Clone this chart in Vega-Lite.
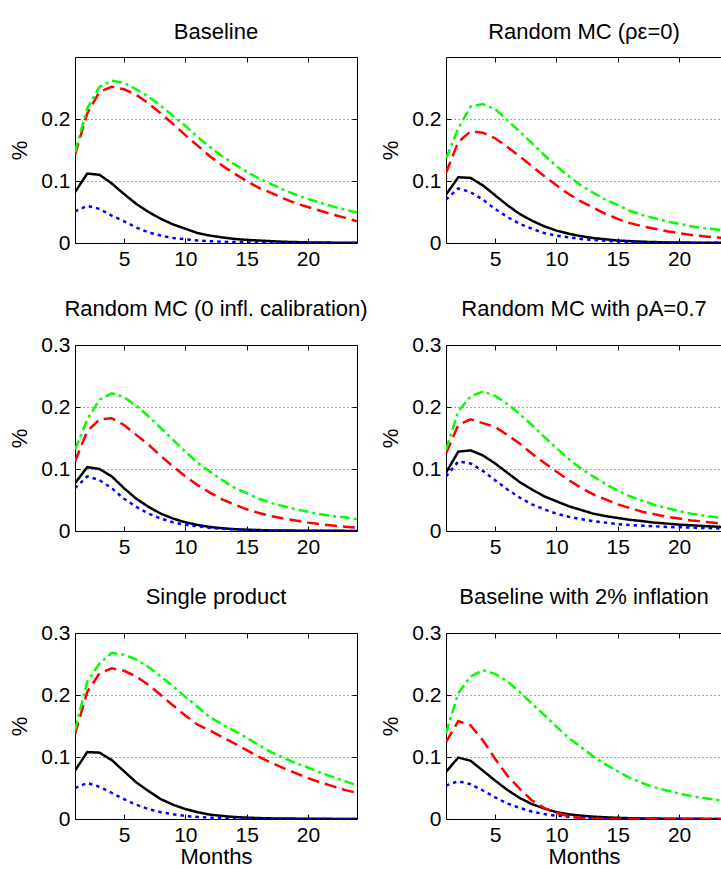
{
  "$schema": "https://vega.github.io/schema/vega-lite/v6.json",
  "padding": {"left": 8, "top": 20, "right": 0, "bottom": 0},
  "datasets": {
    "irf": [
      {"panel": "p1", "month": 1, "black": 0.082, "blue": 0.051, "red": 0.142, "green": 0.147},
      {"panel": "p1", "month": 2, "black": 0.112, "blue": 0.060, "red": 0.209, "green": 0.217},
      {"panel": "p1", "month": 3, "black": 0.110, "blue": 0.055, "red": 0.244, "green": 0.252},
      {"panel": "p1", "month": 4, "black": 0.096, "blue": 0.044, "red": 0.252, "green": 0.262},
      {"panel": "p1", "month": 5, "black": 0.079, "blue": 0.035, "red": 0.248, "green": 0.258},
      {"panel": "p1", "month": 6, "black": 0.063, "blue": 0.025, "red": 0.239, "green": 0.248},
      {"panel": "p1", "month": 7, "black": 0.050, "blue": 0.017, "red": 0.225, "green": 0.236},
      {"panel": "p1", "month": 8, "black": 0.039, "blue": 0.012, "red": 0.209, "green": 0.221},
      {"panel": "p1", "month": 9, "black": 0.030, "blue": 0.008, "red": 0.192, "green": 0.205},
      {"panel": "p1", "month": 10, "black": 0.023, "blue": 0.006, "red": 0.174, "green": 0.189},
      {"panel": "p1", "month": 11, "black": 0.016, "blue": 0.004, "red": 0.157, "green": 0.171},
      {"panel": "p1", "month": 12, "black": 0.012, "blue": 0.003, "red": 0.140, "green": 0.155},
      {"panel": "p1", "month": 13, "black": 0.009, "blue": 0.002, "red": 0.125, "green": 0.140},
      {"panel": "p1", "month": 14, "black": 0.0065, "blue": 0.0015, "red": 0.112, "green": 0.127},
      {"panel": "p1", "month": 15, "black": 0.005, "blue": 0.001, "red": 0.100, "green": 0.115},
      {"panel": "p1", "month": 16, "black": 0.004, "blue": 0.0008, "red": 0.089, "green": 0.104},
      {"panel": "p1", "month": 17, "black": 0.003, "blue": 0.0006, "red": 0.081, "green": 0.095},
      {"panel": "p1", "month": 18, "black": 0.002, "blue": 0.0005, "red": 0.072, "green": 0.086},
      {"panel": "p1", "month": 19, "black": 0.0015, "blue": 0.0004, "red": 0.064, "green": 0.078},
      {"panel": "p1", "month": 20, "black": 0.001, "blue": 0.0003, "red": 0.058, "green": 0.071},
      {"panel": "p1", "month": 21, "black": 0.0008, "blue": 0.0002, "red": 0.052, "green": 0.065},
      {"panel": "p1", "month": 22, "black": 0.0006, "blue": 0.0002, "red": 0.046, "green": 0.059},
      {"panel": "p1", "month": 23, "black": 0.0005, "blue": 0.0001, "red": 0.041, "green": 0.054},
      {"panel": "p1", "month": 24, "black": 0.0004, "blue": 0.0001, "red": 0.035, "green": 0.049},
      {"panel": "p2", "month": 1, "black": 0.078, "blue": 0.070, "red": 0.113, "green": 0.136},
      {"panel": "p2", "month": 2, "black": 0.106, "blue": 0.088, "red": 0.163, "green": 0.185},
      {"panel": "p2", "month": 3, "black": 0.105, "blue": 0.082, "red": 0.180, "green": 0.220},
      {"panel": "p2", "month": 4, "black": 0.093, "blue": 0.070, "red": 0.178, "green": 0.224},
      {"panel": "p2", "month": 5, "black": 0.077, "blue": 0.055, "red": 0.169, "green": 0.216},
      {"panel": "p2", "month": 6, "black": 0.061, "blue": 0.042, "red": 0.155, "green": 0.198},
      {"panel": "p2", "month": 7, "black": 0.047, "blue": 0.031, "red": 0.140, "green": 0.180},
      {"panel": "p2", "month": 8, "black": 0.036, "blue": 0.023, "red": 0.124, "green": 0.161},
      {"panel": "p2", "month": 9, "black": 0.027, "blue": 0.016, "red": 0.108, "green": 0.142},
      {"panel": "p2", "month": 10, "black": 0.020, "blue": 0.012, "red": 0.093, "green": 0.124},
      {"panel": "p2", "month": 11, "black": 0.015, "blue": 0.009, "red": 0.079, "green": 0.108},
      {"panel": "p2", "month": 12, "black": 0.011, "blue": 0.0065, "red": 0.067, "green": 0.093},
      {"panel": "p2", "month": 13, "black": 0.008, "blue": 0.005, "red": 0.057, "green": 0.081},
      {"panel": "p2", "month": 14, "black": 0.006, "blue": 0.0035, "red": 0.047, "green": 0.070},
      {"panel": "p2", "month": 15, "black": 0.004, "blue": 0.0025, "red": 0.039, "green": 0.061},
      {"panel": "p2", "month": 16, "black": 0.003, "blue": 0.002, "red": 0.032, "green": 0.052},
      {"panel": "p2", "month": 17, "black": 0.002, "blue": 0.0015, "red": 0.027, "green": 0.045},
      {"panel": "p2", "month": 18, "black": 0.0015, "blue": 0.001, "red": 0.023, "green": 0.040},
      {"panel": "p2", "month": 19, "black": 0.001, "blue": 0.0008, "red": 0.019, "green": 0.035},
      {"panel": "p2", "month": 20, "black": 0.0008, "blue": 0.0006, "red": 0.016, "green": 0.031},
      {"panel": "p2", "month": 21, "black": 0.0006, "blue": 0.0005, "red": 0.013, "green": 0.027},
      {"panel": "p2", "month": 22, "black": 0.0005, "blue": 0.0004, "red": 0.011, "green": 0.024},
      {"panel": "p2", "month": 23, "black": 0.0004, "blue": 0.0003, "red": 0.009, "green": 0.022},
      {"panel": "p2", "month": 24, "black": 0.0003, "blue": 0.0002, "red": 0.008, "green": 0.019},
      {"panel": "p3", "month": 1, "black": 0.077, "blue": 0.069, "red": 0.112, "green": 0.131},
      {"panel": "p3", "month": 2, "black": 0.103, "blue": 0.088, "red": 0.161, "green": 0.180},
      {"panel": "p3", "month": 3, "black": 0.100, "blue": 0.082, "red": 0.180, "green": 0.212},
      {"panel": "p3", "month": 4, "black": 0.088, "blue": 0.069, "red": 0.182, "green": 0.222},
      {"panel": "p3", "month": 5, "black": 0.069, "blue": 0.052, "red": 0.171, "green": 0.216},
      {"panel": "p3", "month": 6, "black": 0.052, "blue": 0.039, "red": 0.155, "green": 0.202},
      {"panel": "p3", "month": 7, "black": 0.039, "blue": 0.028, "red": 0.139, "green": 0.185},
      {"panel": "p3", "month": 8, "black": 0.028, "blue": 0.020, "red": 0.121, "green": 0.166},
      {"panel": "p3", "month": 9, "black": 0.020, "blue": 0.014, "red": 0.104, "green": 0.147},
      {"panel": "p3", "month": 10, "black": 0.014, "blue": 0.010, "red": 0.088, "green": 0.128},
      {"panel": "p3", "month": 11, "black": 0.0097, "blue": 0.0075, "red": 0.074, "green": 0.110},
      {"panel": "p3", "month": 12, "black": 0.0065, "blue": 0.005, "red": 0.062, "green": 0.096},
      {"panel": "p3", "month": 13, "black": 0.0045, "blue": 0.0035, "red": 0.051, "green": 0.082},
      {"panel": "p3", "month": 14, "black": 0.003, "blue": 0.0025, "red": 0.043, "green": 0.070},
      {"panel": "p3", "month": 15, "black": 0.002, "blue": 0.0018, "red": 0.035, "green": 0.061},
      {"panel": "p3", "month": 16, "black": 0.0015, "blue": 0.0013, "red": 0.029, "green": 0.052},
      {"panel": "p3", "month": 17, "black": 0.001, "blue": 0.001, "red": 0.024, "green": 0.045},
      {"panel": "p3", "month": 18, "black": 0.0008, "blue": 0.0008, "red": 0.020, "green": 0.040},
      {"panel": "p3", "month": 19, "black": 0.0006, "blue": 0.0006, "red": 0.017, "green": 0.035},
      {"panel": "p3", "month": 20, "black": 0.0005, "blue": 0.0005, "red": 0.0135, "green": 0.031},
      {"panel": "p3", "month": 21, "black": 0.0004, "blue": 0.0004, "red": 0.011, "green": 0.027},
      {"panel": "p3", "month": 22, "black": 0.0003, "blue": 0.0003, "red": 0.0087, "green": 0.024},
      {"panel": "p3", "month": 23, "black": 0.0002, "blue": 0.0002, "red": 0.007, "green": 0.022},
      {"panel": "p3", "month": 24, "black": 0.0002, "blue": 0.0002, "red": 0.0054, "green": 0.019},
      {"panel": "p4", "month": 1, "black": 0.094, "blue": 0.088, "red": 0.125, "green": 0.131},
      {"panel": "p4", "month": 2, "black": 0.128, "blue": 0.112, "red": 0.171, "green": 0.193},
      {"panel": "p4", "month": 3, "black": 0.130, "blue": 0.109, "red": 0.180, "green": 0.217},
      {"panel": "p4", "month": 4, "black": 0.122, "blue": 0.097, "red": 0.174, "green": 0.225},
      {"panel": "p4", "month": 5, "black": 0.109, "blue": 0.082, "red": 0.168, "green": 0.218},
      {"panel": "p4", "month": 6, "black": 0.094, "blue": 0.067, "red": 0.155, "green": 0.205},
      {"panel": "p4", "month": 7, "black": 0.079, "blue": 0.054, "red": 0.141, "green": 0.189},
      {"panel": "p4", "month": 8, "black": 0.067, "blue": 0.043, "red": 0.125, "green": 0.171},
      {"panel": "p4", "month": 9, "black": 0.056, "blue": 0.035, "red": 0.110, "green": 0.152},
      {"panel": "p4", "month": 10, "black": 0.048, "blue": 0.028, "red": 0.096, "green": 0.134},
      {"panel": "p4", "month": 11, "black": 0.040, "blue": 0.023, "red": 0.082, "green": 0.116},
      {"panel": "p4", "month": 12, "black": 0.034, "blue": 0.019, "red": 0.070, "green": 0.101},
      {"panel": "p4", "month": 13, "black": 0.028, "blue": 0.016, "red": 0.059, "green": 0.088},
      {"panel": "p4", "month": 14, "black": 0.024, "blue": 0.0135, "red": 0.051, "green": 0.076},
      {"panel": "p4", "month": 15, "black": 0.021, "blue": 0.011, "red": 0.043, "green": 0.065},
      {"panel": "p4", "month": 16, "black": 0.018, "blue": 0.0097, "red": 0.037, "green": 0.056},
      {"panel": "p4", "month": 17, "black": 0.016, "blue": 0.0086, "red": 0.031, "green": 0.049},
      {"panel": "p4", "month": 18, "black": 0.0135, "blue": 0.0076, "red": 0.027, "green": 0.042},
      {"panel": "p4", "month": 19, "black": 0.012, "blue": 0.0065, "red": 0.023, "green": 0.037},
      {"panel": "p4", "month": 20, "black": 0.0103, "blue": 0.006, "red": 0.020, "green": 0.032},
      {"panel": "p4", "month": 21, "black": 0.0092, "blue": 0.0054, "red": 0.017, "green": 0.028},
      {"panel": "p4", "month": 22, "black": 0.008, "blue": 0.0049, "red": 0.015, "green": 0.025},
      {"panel": "p4", "month": 23, "black": 0.007, "blue": 0.0043, "red": 0.013, "green": 0.022},
      {"panel": "p4", "month": 24, "black": 0.006, "blue": 0.0038, "red": 0.011, "green": 0.020},
      {"panel": "p5", "month": 1, "black": 0.078, "blue": 0.050, "red": 0.137, "green": 0.143},
      {"panel": "p5", "month": 2, "black": 0.108, "blue": 0.058, "red": 0.205, "green": 0.222},
      {"panel": "p5", "month": 3, "black": 0.107, "blue": 0.052, "red": 0.235, "green": 0.251},
      {"panel": "p5", "month": 4, "black": 0.095, "blue": 0.042, "red": 0.243, "green": 0.268},
      {"panel": "p5", "month": 5, "black": 0.077, "blue": 0.032, "red": 0.239, "green": 0.265},
      {"panel": "p5", "month": 6, "black": 0.059, "blue": 0.023, "red": 0.230, "green": 0.257},
      {"panel": "p5", "month": 7, "black": 0.045, "blue": 0.016, "red": 0.216, "green": 0.245},
      {"panel": "p5", "month": 8, "black": 0.032, "blue": 0.011, "red": 0.200, "green": 0.230},
      {"panel": "p5", "month": 9, "black": 0.023, "blue": 0.0076, "red": 0.183, "green": 0.214},
      {"panel": "p5", "month": 10, "black": 0.016, "blue": 0.005, "red": 0.167, "green": 0.197},
      {"panel": "p5", "month": 11, "black": 0.011, "blue": 0.0032, "red": 0.152, "green": 0.181},
      {"panel": "p5", "month": 12, "black": 0.007, "blue": 0.002, "red": 0.143, "green": 0.164},
      {"panel": "p5", "month": 13, "black": 0.005, "blue": 0.0014, "red": 0.132, "green": 0.153},
      {"panel": "p5", "month": 14, "black": 0.0032, "blue": 0.001, "red": 0.122, "green": 0.142},
      {"panel": "p5", "month": 15, "black": 0.0022, "blue": 0.0007, "red": 0.111, "green": 0.131},
      {"panel": "p5", "month": 16, "black": 0.0015, "blue": 0.0005, "red": 0.100, "green": 0.119},
      {"panel": "p5", "month": 17, "black": 0.001, "blue": 0.0004, "red": 0.091, "green": 0.108},
      {"panel": "p5", "month": 18, "black": 0.0008, "blue": 0.0003, "red": 0.082, "green": 0.099},
      {"panel": "p5", "month": 19, "black": 0.0006, "blue": 0.0002, "red": 0.074, "green": 0.090},
      {"panel": "p5", "month": 20, "black": 0.0004, "blue": 0.0002, "red": 0.066, "green": 0.083},
      {"panel": "p5", "month": 21, "black": 0.0003, "blue": 0.0001, "red": 0.059, "green": 0.075},
      {"panel": "p5", "month": 22, "black": 0.0002, "blue": 0.0001, "red": 0.053, "green": 0.068},
      {"panel": "p5", "month": 23, "black": 0.0002, "blue": 0.0001, "red": 0.047, "green": 0.061},
      {"panel": "p5", "month": 24, "black": 0.0001, "blue": 0.0001, "red": 0.042, "green": 0.054},
      {"panel": "p6", "month": 1, "black": 0.076, "blue": 0.054, "red": 0.124, "green": 0.138},
      {"panel": "p6", "month": 2, "black": 0.099, "blue": 0.061, "red": 0.158, "green": 0.203},
      {"panel": "p6", "month": 3, "black": 0.094, "blue": 0.056, "red": 0.151, "green": 0.230},
      {"panel": "p6", "month": 4, "black": 0.078, "blue": 0.046, "red": 0.127, "green": 0.240},
      {"panel": "p6", "month": 5, "black": 0.062, "blue": 0.035, "red": 0.097, "green": 0.234},
      {"panel": "p6", "month": 6, "black": 0.047, "blue": 0.025, "red": 0.070, "green": 0.222},
      {"panel": "p6", "month": 7, "black": 0.034, "blue": 0.018, "red": 0.049, "green": 0.205},
      {"panel": "p6", "month": 8, "black": 0.024, "blue": 0.012, "red": 0.030, "green": 0.186},
      {"panel": "p6", "month": 9, "black": 0.017, "blue": 0.008, "red": 0.018, "green": 0.168},
      {"panel": "p6", "month": 10, "black": 0.011, "blue": 0.0054, "red": 0.0097, "green": 0.149},
      {"panel": "p6", "month": 11, "black": 0.0076, "blue": 0.0038, "red": 0.0043, "green": 0.131},
      {"panel": "p6", "month": 12, "black": 0.0054, "blue": 0.0025, "red": 0.0016, "green": 0.116},
      {"panel": "p6", "month": 13, "black": 0.0038, "blue": 0.0017, "red": 0.0005, "green": 0.101},
      {"panel": "p6", "month": 14, "black": 0.0027, "blue": 0.0012, "red": 0.0002, "green": 0.088},
      {"panel": "p6", "month": 15, "black": 0.0019, "blue": 0.0008, "red": 0.0001, "green": 0.077},
      {"panel": "p6", "month": 16, "black": 0.0013, "blue": 0.0006, "red": 0.0001, "green": 0.066},
      {"panel": "p6", "month": 17, "black": 0.0009, "blue": 0.0004, "red": 0, "green": 0.058},
      {"panel": "p6", "month": 18, "black": 0.0007, "blue": 0.0003, "red": 0, "green": 0.051},
      {"panel": "p6", "month": 19, "black": 0.0005, "blue": 0.0002, "red": 0, "green": 0.046},
      {"panel": "p6", "month": 20, "black": 0.0004, "blue": 0.0002, "red": 0, "green": 0.041},
      {"panel": "p6", "month": 21, "black": 0.0003, "blue": 0.0001, "red": 0, "green": 0.037},
      {"panel": "p6", "month": 22, "black": 0.0002, "blue": 0.0001, "red": 0, "green": 0.034},
      {"panel": "p6", "month": 23, "black": 0.0002, "blue": 0.0001, "red": 0, "green": 0.031},
      {"panel": "p6", "month": 24, "black": 0.0001, "blue": 0.0001, "red": 0, "green": 0.029}
    ]
  },
  "data": {"name": "irf"},
  "columns": 2,
  "bounds": "flush",
  "spacing": {"row": 102, "column": 89},
  "concat": [
    {
      "title": "Baseline",
      "width": 282, "height": 186,
      "transform": [{"filter": "datum.panel == 'p1'"}, {"fold": ["black", "blue", "red", "green"], "as": ["series", "value"]}],
      "layer": [
        {
          "mark": {"type": "line", "strokeWidth": 2.5, "clip": true},
          "encoding": {
            "x": {"field": "month", "type": "quantitative", "scale": {"domain": [1, 24], "nice": false, "zero": false}, "axis": {"values": [5, 10, 15, 20], "title": null}},
            "y": {"field": "value", "type": "quantitative", "scale": {"domain": [0, 0.3], "nice": false}, "axis": {"values": [0, 0.1, 0.2], "format": "~g", "title": "%", "grid": true}},
            "color": {"field": "series", "type": "nominal", "scale": {"domain": ["black", "blue", "red", "green"], "range": ["#000000", "#0000ff", "#ff0000", "#00ff00"]}, "legend": null},
            "strokeDash": {"field": "series", "type": "nominal", "scale": {"domain": ["black", "blue", "red", "green"], "range": [[1, 0], [3.5, 4], [12, 6], [10, 4, 3, 4]]}, "legend": null}
          }
        },
        {
          "mark": {"type": "point", "opacity": 0},
          "encoding": {
            "x": {"field": "month", "type": "quantitative", "axis": {"orient": "top", "values": [5, 10, 15, 20], "labels": false, "title": null}},
            "y": {"field": "value", "type": "quantitative", "axis": {"orient": "right", "values": [0.1, 0.2], "labels": false, "title": null}}
          }
        }
      ],
      "resolve": {"axis": {"x": "independent", "y": "independent"}}
    },
    {
      "title": "Random MC (ρε=0)",
      "width": 276, "height": 186,
      "transform": [{"filter": "datum.panel == 'p2'"}, {"fold": ["black", "blue", "red", "green"], "as": ["series", "value"]}],
      "layer": [
        {
          "mark": {"type": "line", "strokeWidth": 2.5, "clip": true},
          "encoding": {
            "x": {"field": "month", "type": "quantitative", "scale": {"domain": [1, 23.5], "nice": false, "zero": false}, "axis": {"values": [5, 10, 15, 20], "title": null}},
            "y": {"field": "value", "type": "quantitative", "scale": {"domain": [0, 0.3], "nice": false}, "axis": {"values": [0, 0.1, 0.2], "format": "~g", "title": "%", "grid": true}},
            "color": {"field": "series", "type": "nominal", "scale": {"domain": ["black", "blue", "red", "green"], "range": ["#000000", "#0000ff", "#ff0000", "#00ff00"]}, "legend": null},
            "strokeDash": {"field": "series", "type": "nominal", "scale": {"domain": ["black", "blue", "red", "green"], "range": [[1, 0], [3.5, 4], [12, 6], [10, 4, 3, 4]]}, "legend": null}
          }
        },
        {
          "mark": {"type": "point", "opacity": 0},
          "encoding": {
            "x": {"field": "month", "type": "quantitative", "axis": {"orient": "top", "values": [5, 10, 15, 20], "labels": false, "title": null}},
            "y": {"field": "value", "type": "quantitative", "axis": null}
          }
        }
      ],
      "resolve": {"axis": {"x": "independent", "y": "independent"}}
    },
    {
      "title": "Random MC (0 infl. calibration)",
      "width": 282, "height": 186,
      "transform": [{"filter": "datum.panel == 'p3'"}, {"fold": ["black", "blue", "red", "green"], "as": ["series", "value"]}],
      "layer": [
        {
          "mark": {"type": "line", "strokeWidth": 2.5, "clip": true},
          "encoding": {
            "x": {"field": "month", "type": "quantitative", "scale": {"domain": [1, 24], "nice": false, "zero": false}, "axis": {"values": [5, 10, 15, 20], "title": null}},
            "y": {"field": "value", "type": "quantitative", "scale": {"domain": [0, 0.3], "nice": false}, "axis": {"values": [0, 0.1, 0.2, 0.3], "format": "~g", "title": "%", "grid": true}},
            "color": {"field": "series", "type": "nominal", "scale": {"domain": ["black", "blue", "red", "green"], "range": ["#000000", "#0000ff", "#ff0000", "#00ff00"]}, "legend": null},
            "strokeDash": {"field": "series", "type": "nominal", "scale": {"domain": ["black", "blue", "red", "green"], "range": [[1, 0], [3.5, 4], [12, 6], [10, 4, 3, 4]]}, "legend": null}
          }
        },
        {
          "mark": {"type": "point", "opacity": 0},
          "encoding": {
            "x": {"field": "month", "type": "quantitative", "axis": {"orient": "top", "values": [5, 10, 15, 20], "labels": false, "title": null}},
            "y": {"field": "value", "type": "quantitative", "axis": {"orient": "right", "values": [0.1, 0.2], "labels": false, "title": null}}
          }
        }
      ],
      "resolve": {"axis": {"x": "independent", "y": "independent"}}
    },
    {
      "title": "Random MC with ρA=0.7",
      "width": 276, "height": 186,
      "transform": [{"filter": "datum.panel == 'p4'"}, {"fold": ["black", "blue", "red", "green"], "as": ["series", "value"]}],
      "layer": [
        {
          "mark": {"type": "line", "strokeWidth": 2.5, "clip": true},
          "encoding": {
            "x": {"field": "month", "type": "quantitative", "scale": {"domain": [1, 23.5], "nice": false, "zero": false}, "axis": {"values": [5, 10, 15, 20], "title": null}},
            "y": {"field": "value", "type": "quantitative", "scale": {"domain": [0, 0.3], "nice": false}, "axis": {"values": [0, 0.1, 0.2, 0.3], "format": "~g", "title": "%", "grid": true}},
            "color": {"field": "series", "type": "nominal", "scale": {"domain": ["black", "blue", "red", "green"], "range": ["#000000", "#0000ff", "#ff0000", "#00ff00"]}, "legend": null},
            "strokeDash": {"field": "series", "type": "nominal", "scale": {"domain": ["black", "blue", "red", "green"], "range": [[1, 0], [3.5, 4], [12, 6], [10, 4, 3, 4]]}, "legend": null}
          }
        },
        {
          "mark": {"type": "point", "opacity": 0},
          "encoding": {
            "x": {"field": "month", "type": "quantitative", "axis": {"orient": "top", "values": [5, 10, 15, 20], "labels": false, "title": null}},
            "y": {"field": "value", "type": "quantitative", "axis": null}
          }
        }
      ],
      "resolve": {"axis": {"x": "independent", "y": "independent"}}
    },
    {
      "title": "Single product",
      "width": 282, "height": 186,
      "transform": [{"filter": "datum.panel == 'p5'"}, {"fold": ["black", "blue", "red", "green"], "as": ["series", "value"]}],
      "layer": [
        {
          "mark": {"type": "line", "strokeWidth": 2.5, "clip": true},
          "encoding": {
            "x": {"field": "month", "type": "quantitative", "scale": {"domain": [1, 24], "nice": false, "zero": false}, "axis": {"values": [5, 10, 15, 20], "title": "Months"}},
            "y": {"field": "value", "type": "quantitative", "scale": {"domain": [0, 0.3], "nice": false}, "axis": {"values": [0, 0.1, 0.2, 0.3], "format": "~g", "title": "%", "grid": true}},
            "color": {"field": "series", "type": "nominal", "scale": {"domain": ["black", "blue", "red", "green"], "range": ["#000000", "#0000ff", "#ff0000", "#00ff00"]}, "legend": null},
            "strokeDash": {"field": "series", "type": "nominal", "scale": {"domain": ["black", "blue", "red", "green"], "range": [[1, 0], [3.5, 4], [12, 6], [10, 4, 3, 4]]}, "legend": null}
          }
        },
        {
          "mark": {"type": "point", "opacity": 0},
          "encoding": {
            "x": {"field": "month", "type": "quantitative", "axis": {"orient": "top", "values": [5, 10, 15, 20], "labels": false, "title": null}},
            "y": {"field": "value", "type": "quantitative", "axis": {"orient": "right", "values": [0.1, 0.2], "labels": false, "title": null}}
          }
        }
      ],
      "resolve": {"axis": {"x": "independent", "y": "independent"}}
    },
    {
      "title": "Baseline with 2% inflation",
      "width": 276, "height": 186,
      "transform": [{"filter": "datum.panel == 'p6'"}, {"fold": ["black", "blue", "red", "green"], "as": ["series", "value"]}],
      "layer": [
        {
          "mark": {"type": "line", "strokeWidth": 2.5, "clip": true},
          "encoding": {
            "x": {"field": "month", "type": "quantitative", "scale": {"domain": [1, 23.5], "nice": false, "zero": false}, "axis": {"values": [5, 10, 15, 20], "title": "Months"}},
            "y": {"field": "value", "type": "quantitative", "scale": {"domain": [0, 0.3], "nice": false}, "axis": {"values": [0, 0.1, 0.2, 0.3], "format": "~g", "title": "%", "grid": true}},
            "color": {"field": "series", "type": "nominal", "scale": {"domain": ["black", "blue", "red", "green"], "range": ["#000000", "#0000ff", "#ff0000", "#00ff00"]}, "legend": null},
            "strokeDash": {"field": "series", "type": "nominal", "scale": {"domain": ["black", "blue", "red", "green"], "range": [[1, 0], [3.5, 4], [12, 6], [10, 4, 3, 4]]}, "legend": null}
          }
        },
        {
          "mark": {"type": "point", "opacity": 0},
          "encoding": {
            "x": {"field": "month", "type": "quantitative", "axis": {"orient": "top", "values": [5, 10, 15, 20], "labels": false, "title": null}},
            "y": {"field": "value", "type": "quantitative", "axis": null}
          }
        }
      ],
      "resolve": {"axis": {"x": "independent", "y": "independent"}}
    }
  ],
  "config": {
    "background": "white",
    "view": {"stroke": null},
    "font": "Liberation Sans",
    "title": {"font": "Liberation Sans", "fontSize": 22, "fontWeight": "normal", "color": "black", "offset": 13},
    "axis": {
      "domainColor": "black",
      "domainWidth": 1,
      "tickColor": "black",
      "tickSize": -5,
      "labelFont": "Liberation Sans",
      "labelFontSize": 21,
      "labelColor": "black",
      "titleFont": "Liberation Sans",
      "titleFontSize": 22,
      "titleFontWeight": "normal",
      "titleColor": "black",
      "grid": false,
      "gridColor": "#000000",
      "gridOpacity": 0.7,
      "gridDash": [1, 3],
      "labelFlush": false,
      "labelOverlap": false
    },
    "axisX": {"labelPadding": 10, "titlePadding": 1},
    "axisY": {"labelPadding": 10, "titlePadding": 9}
  }
}
